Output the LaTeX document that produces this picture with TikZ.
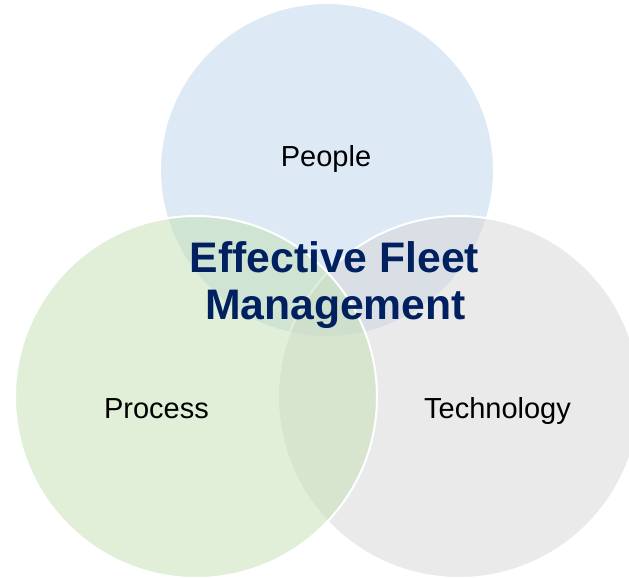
\documentclass[tikz,border=0pt]{standalone}
\usepackage{fontspec}
\setmainfont{Liberation Sans}
\definecolor{cblue}{HTML}{BDD7EE}
\definecolor{cgreen}{HTML}{C5E0B4}
\definecolor{cgray}{HTML}{D6D6D6}
\definecolor{navy}{HTML}{002060}
\begin{document}
\begin{tikzpicture}[x=1pt,y=-1pt,
  venn/.style={fill=#1,fill opacity=0.5,draw=white,line width=2pt},
  lbl/.style={anchor=base,font=\fontsize{29}{34}\selectfont,text=black,inner sep=0pt},
  ttl/.style={anchor=base,font=\fontsize{42.7}{47}\bfseries\selectfont,text=navy,inner sep=0pt,align=center}]
\useasboundingbox (0,0) rectangle (629,578);
\clip (0,0) rectangle (629,578);
\fill[white] (0,0) rectangle (629,578);
\path[venn=cblue] (327,170) circle[radius=167];
\path[venn=cgray] (459,397) circle[radius=181];
\path[venn=cgreen] (196,397) circle[radius=181];
\node[lbl] (people) at (326,166) {People};
\node[lbl] (process) at (156.5,418) {Process};
\node[lbl] (tech) at (497.5,418) {Technology};
\node[ttl] (t1) at (334.5,272.5) {Effective Fleet};
\node[ttl] (t2) at (335.5,319) {Management};
\end{tikzpicture}
\end{document}
